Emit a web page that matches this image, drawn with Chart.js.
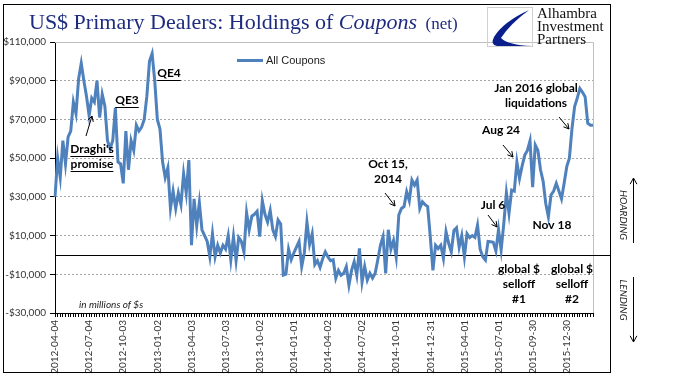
<!DOCTYPE html>
<html>
<head>
<meta charset="utf-8">
<title>US$ Primary Dealers: Holdings of Coupons (net)</title>
<script src="https://cdn.jsdelivr.net/npm/chart.js@4.4.1/dist/chart.umd.min.js"></script>
<style>
  html, body { margin: 0; padding: 0; background: #fff; }
  #wrap { position: relative; width: 682px; height: 381px; }
</style>
</head>
<body>
<div id="wrap"><canvas id="chart" width="682" height="381"></canvas></div>
<script>
// weekly observations, first week 2012-04-04
const startWeek = '2012-04-04';

const tickLabels = [
  '2012-04-04', '2012-07-04', '2012-10-03', '2013-01-02', '2013-04-03', '2013-07-03',
  '2013-10-02', '2014-01-01', '2014-04-02', '2014-07-02', '2014-10-01', '2014-12-31',
  '2015-04-01', '2015-07-01', '2015-09-30', '2015-12-30'
];

// All Coupons, millions of $
const allCoupons = [
  30000, 50000, 40000, 59000, 47000, 61000, 64000, 79000, 73000, 91000,
  99000, 90000, 82000, 72000, 81000, 79000, 90000, 71000, 83000, 77000,
  59000, 55000, 59000, 76000, 48000, 47000, 37000, 64000, 44000, 59000,
  54000, 67000, 64000, 66000, 70000, 82000, 100000, 104000, 90000, 70000,
  65000, 48000, 40000, 45000, 24000, 33000, 24000, 32000, 26000, 42000,
  32000, 49000, 5000, 29000, 15000, 27000, 13000, 10000, 7000, -1000,
  11000, -1000, 5000, 1000, 5000, 3000, 10000, -2500, 9500, -3000,
  9000, 7000, 1500, 21800, 13000, 20000, 21000, 22500, 9500, 28000,
  21000, 17000, 23000, 13000, 9500, 18000, 16000, -10500, -10000, 3000,
  -2500, 1000, 4000, 7000, -6000, 1000, 17000, 5500, 11000, -5000,
  -3000, -6500, -2000, 1600, -1000, -3000, -2500, -12000, -8000, -10500,
  -9500, -6000, -15600, -8000, -3500, -10500, 3400, -14000, -6000, -13000,
  -9500, -12000, -9500, -2500, 5000, 9500, -9500, 13000, 3000, 7500,
  -1000, 20600, 24000, 25000, 32600, 28000, 38700, 36000, 38700, 24000,
  27500, 26000, 25000, 9400, -8000, 5000, 3300, 5000, -1800, 12000,
  6000, 1600, 12600, 14000, 4000, 10000, -1000, 11000, 9000, 10000,
  9000, 15400, 3000, -1000, -2700, 7000, 6800, 6500, 2000, 13000,
  2600, 16000, 32000, 21500, 33500, 33000, 48000, 39500, 46000, 51600,
  54000, 59000, 35000, 56800, 54000, 44000, 38000, 26600, 19700, 31000,
  33000, 37000, 33000, 29000, 37000, 45600, 50000, 65400, 76600, 81000,
  86000, 84000, 81700, 68000, 67000, 67000
];

const yMin = -30000;
const yMax = 110000;
const yStep = 20000;

function weekLabels(start, n) {
  const out = [];
  const t0 = new Date(start + 'T00:00:00Z').getTime();
  for (let i = 0; i < n; i++) {
    out.push(new Date(t0 + i * 7 * 86400000).toISOString().slice(0, 10));
  }
  return out;
}

const weeks = weekLabels(startWeek, allCoupons.length);

const BLUE = '#4F81BD';
const NOTE_FONT = 'bold 12px Lato, "Liberation Sans", sans-serif';
const TICK_FONT = { family: 'Lato, "Liberation Sans", sans-serif', size: 10 };

// text notes drawn over the plot: lines, centre x, centre y of first line
const notes = [
  { lines: ['QE3'], x: 127, y: 100, underline: true },
  { lines: ['QE4'], x: 169, y: 73, underline: true },
  { lines: ["Draghi's", 'promise'], x: 92, y: 149, underline: true },
  { lines: ['Oct 15,', '2014'], x: 388, y: 164 },
  { lines: ['Aug 24'], x: 501, y: 130 },
  { lines: ['Jan 2016 global', 'liquidations'], x: 536, y: 88 },
  { lines: ['Jul 6'], x: 493, y: 205 },
  { lines: ['Nov 18'], x: 552, y: 225 },
  { lines: ['global $', 'selloff', '#1'], x: 519, y: 269 },
  { lines: ['global $', 'selloff', '#2'], x: 572, y: 269 }
];

const pointers = [
  [86, 136, 92, 116],
  [385, 193, 395, 206],
  [503, 145, 513, 157],
  [559, 117, 569, 129],
  [488, 215, 497, 227]
];

function arrow(ctx, x1, y1, x2, y2, h) {
  const a = Math.atan2(y2 - y1, x2 - x1);
  ctx.beginPath();
  ctx.moveTo(x1, y1);
  ctx.lineTo(x2, y2);
  ctx.moveTo(x2 - h * Math.cos(a - 0.5), y2 - h * Math.sin(a - 0.5));
  ctx.lineTo(x2, y2);
  ctx.lineTo(x2 - h * Math.cos(a + 0.5), y2 - h * Math.sin(a + 0.5));
  ctx.stroke();
}

const decor = {
  id: 'decor',
  beforeDraw(chart) {
    const ctx = chart.ctx;
    ctx.save();
    ctx.fillStyle = '#fff';
    ctx.fillRect(0, 0, chart.width, chart.height);
    ctx.restore();
  },
  beforeDatasetsDraw(chart) {
    const { ctx, chartArea: ca, scales } = chart;
    ctx.save();
    // plot border top/right
    ctx.strokeStyle = '#bfbfbf';
    ctx.lineWidth = 1;
    ctx.beginPath();
    ctx.moveTo(ca.left, ca.top + 0.5);
    ctx.lineTo(ca.right + 0.5, ca.top + 0.5);
    ctx.lineTo(ca.right + 0.5, ca.bottom);
    ctx.stroke();
    // zero line runs out to the frame
    const y0 = Math.round(scales.y.getPixelForValue(0)) + 0.5;
    ctx.strokeStyle = '#000';
    ctx.beginPath();
    ctx.moveTo(ca.left, y0);
    ctx.lineTo(611, y0);
    ctx.stroke();
    ctx.restore();
  },
  afterDraw(chart) {
    const ctx = chart.ctx;
    ctx.save();

    // outer frame
    ctx.strokeStyle = '#000';
    ctx.lineWidth = 1;
    ctx.strokeRect(3.5, 4.5, 607, 368);

    // title
    let tx = 29;
    ctx.fillStyle = '#1d2c7e';
    ctx.textBaseline = 'alphabetic';
    ctx.textAlign = 'left';
    const parts = [
      ['US$ Primary Dealers: Holdings of ', '22px "Liberation Serif", serif'],
      ['Coupons', 'italic 22px "Liberation Serif", serif'],
      ['  (net)', '17px "Liberation Serif", serif']
    ];
    for (const [t, f] of parts) {
      ctx.font = f;
      ctx.fillText(t, tx, 29);
      tx += ctx.measureText(t).width;
    }

    // logo
    ctx.strokeStyle = '#d0d0d0';
    ctx.strokeRect(487.5, 7.5, 45, 39);
    ctx.fillStyle = '#0b1f8c';
    ctx.beginPath();
    ctx.moveTo(529, 10);
    ctx.quadraticCurveTo(503, 22, 494, 37);
    ctx.quadraticCurveTo(490, 45, 497, 46);
    ctx.lineTo(532, 46);
    ctx.quadraticCurveTo(508, 45, 501, 38);
    ctx.quadraticCurveTo(510, 24, 529, 10);
    ctx.fill();
    ctx.fillStyle = '#111';
    ctx.font = '15px "Liberation Serif", serif';
    ctx.fillText('Alhambra', 537, 18);
    ctx.fillText('Investment', 537, 31);
    ctx.fillText('Partners', 537, 44);

    // legend
    ctx.strokeStyle = BLUE;
    ctx.lineWidth = 3;
    ctx.beginPath();
    ctx.moveTo(237, 60.5);
    ctx.lineTo(263, 60.5);
    ctx.stroke();
    ctx.fillStyle = '#222';
    ctx.font = '11px "Liberation Sans", Arial, sans-serif';
    ctx.textBaseline = 'middle';
    ctx.fillText('All Coupons', 266, 61);

    // notes
    ctx.font = NOTE_FONT;
    ctx.textAlign = 'center';
    ctx.fillStyle = '#000';
    ctx.strokeStyle = '#000';
    ctx.lineWidth = 1;
    for (const n of notes) {
      n.lines.forEach((t, i) => {
        const y = n.y + i * 15;
        ctx.fillText(t, n.x, y);
        if (n.underline) {
          const w = ctx.measureText(t).width;
          ctx.beginPath();
          ctx.moveTo(n.x - w / 2, y + 7.5);
          ctx.lineTo(n.x + w / 2, y + 7.5);
          ctx.stroke();
        }
      });
    }
    for (const p of pointers) arrow(ctx, p[0], p[1], p[2], p[3], 6);

    ctx.textAlign = 'left';
    ctx.font = 'italic 10px Lato, "Liberation Sans", sans-serif';
    ctx.fillStyle = '#222';
    ctx.fillText('in millions of $s', 79, 305);

    // hoarding / lending side labels
    ctx.fillStyle = '#222';
    ctx.font = 'italic 10px Lato, "Liberation Sans", sans-serif';
    ctx.textAlign = 'center';
    ctx.save();
    ctx.translate(623, 215);
    ctx.rotate(Math.PI / 2);
    ctx.fillText('HOARDING', 0, 0);
    ctx.restore();
    ctx.save();
    ctx.translate(623, 300);
    ctx.rotate(Math.PI / 2);
    ctx.fillText('LENDING', 0, 0);
    ctx.restore();
    ctx.strokeStyle = '#000';
    ctx.lineWidth = 1;
    arrow(ctx, 633.5, 243, 633.5, 178, 7);
    arrow(ctx, 633.5, 277, 633.5, 342, 7);

    ctx.restore();
  }
};

new Chart(document.getElementById('chart'), {
  type: 'line',
  data: {
    labels: weeks,
    datasets: [{
      label: 'All Coupons',
      data: allCoupons,
      borderColor: BLUE,
      borderWidth: 3,
      pointRadius: 0,
      tension: 0,
      fill: false
    }]
  },
  options: {
    responsive: false,
    animation: false,
    devicePixelRatio: 1,
    layout: { padding: { top: 42, right: 89, left: 0, bottom: 0 } },
    plugins: {
      legend: { display: false },
      title: { display: false },
      tooltip: { enabled: false }
    },
    scales: {
      x: {
        afterFit: s => { s.height = 68; },
        grid: { drawOnChartArea: false, drawTicks: true, tickLength: 4, tickColor: '#000' },
        border: { color: '#000', width: 1 },
        ticks: {
          autoSkip: false,
          minRotation: 90,
          maxRotation: 90,
          padding: 3,
          color: '#333',
          font: TICK_FONT,
          callback: function (v) {
            const l = this.getLabelForValue(v);
            return tickLabels.includes(l) ? l : '';
          }
        }
      },
      y: {
        min: yMin,
        max: yMax,
        afterFit: s => { s.width = 55; },
        grid: { color: '#a6a6a6', tickColor: '#000', tickLength: 5, lineWidth: 1 },
        border: { color: '#000', width: 1, dash: [2, 2] },
        ticks: {
          stepSize: yStep,
          padding: 4,
          color: '#333',
          font: TICK_FONT,
          callback: v => (v < 0 ? '-$' : '$') + Math.abs(v).toLocaleString('en-US')
        }
      }
    }
  },
  plugins: [decor]
});
</script>
</body>
</html>
